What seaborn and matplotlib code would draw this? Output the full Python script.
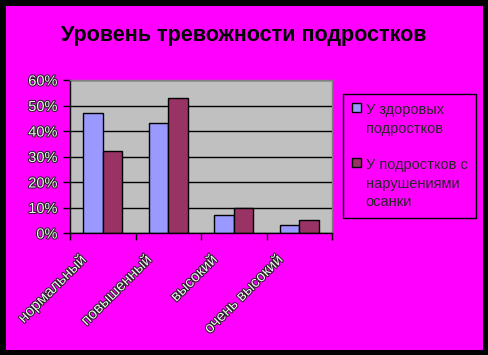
import pandas as pd
import numpy as np
import matplotlib
matplotlib.use('Agg')
import matplotlib.pyplot as plt
import matplotlib.patheffects as pe
import matplotlib.transforms as mtransforms
from matplotlib.patches import Patch, Rectangle
import seaborn as sns

categories = ['нормальный', 'повышенный', 'высокий', 'очень высокий']
healthy = [47, 43, 7, 3]
posture = [32, 53, 10, 5]
series_names = ['У здоровых\nподростков', 'У подростков с\nнарушениями\nосанки']
colors = ['#9999FF', '#993366']
y_ticks = [0, 10, 20, 30, 40, 50, 60]

df = pd.DataFrame({
    'cat': categories * 2,
    'val': healthy + posture,
    'series': [series_names[0]] * 4 + [series_names[1]] * 4,
})

sns.set_style('white')
plt.rcParams['font.family'] = ['Liberation Sans', 'DejaVu Sans']

W, H = 488, 355
fig = plt.figure(figsize=(W / 100, H / 100), dpi=100)
fig.patch.set_facecolor('black')
# magenta area inside black frame
fig.add_artist(Rectangle((6 / W, 5 / H), (483 - 6) / W, (349 - 5) / H,
                         transform=fig.transFigure, facecolor='#FF00FF',
                         edgecolor='none', zorder=0))

ax = fig.add_axes([70 / W, (H - 233) / H, 262 / W, 153 / H])
ax.set_facecolor('#C0C0C0')
sns.barplot(data=df, x='cat', y='val', hue='series', palette=colors,
            width=0.59, edgecolor='black', linewidth=1, ax=ax, legend=False,
            saturation=1)

ax.set_ylim(0, 60)
ax.set_xlim(-0.5, 3.5)
ax.set_yticks(y_ticks)
ax.set_yticklabels([f'{t}%' for t in y_ticks])
ax.yaxis.grid(True, color='black', linewidth=1)
ax.set_axisbelow(True)
ax.set_xlabel('')
ax.set_ylabel('')

for s in ['left', 'bottom']:
    ax.spines[s].set_color('black')
    ax.spines[s].set_linewidth(1)
for s in ['top', 'right']:
    ax.spines[s].set_color('#808080')
    ax.spines[s].set_linewidth(1)

ax.tick_params(axis='y', direction='out', length=5, width=1, color='black',
               left=True, labelsize=10.5, pad=4)
ax.set_xticks(np.arange(len(categories)))
ax.set_xticks(np.arange(len(categories) + 1) - 0.5, minor=True)
ax.tick_params(axis='x', which='major', length=0, labelsize=11, pad=18)
ax.tick_params(axis='x', which='minor', direction='out', length=5, width=1,
               color='black', bottom=True)

outline = [pe.withStroke(linewidth=1.4, foreground='#202020')]
for lab in ax.get_yticklabels():
    lab.set_color('#F0F0F0')
    lab.set_path_effects(outline)
offset = mtransforms.ScaledTranslation(-19 / 100, 0, fig.dpi_scale_trans)
for lab in ax.get_xticklabels():
    lab.set_rotation(45)
    lab.set_rotation_mode('anchor')
    lab.set_ha('right')
    lab.set_va('center')
    lab.set_color('#F0F0F0')
    lab.set_path_effects(outline)
    lab.set_transform(lab.get_transform() + offset)

fig.text(244 / W, 1 - 35 / H, 'Уровень тревожности подростков',
         ha='center', va='center', fontsize=15.5, fontweight='bold',
         color='black')

handles = [Patch(facecolor=c, edgecolor='black', linewidth=1) for c in colors]
leg = fig.legend(handles, series_names, loc='upper left',
                 bbox_to_anchor=(343 / W, 1 - 94 / H), frameon=True,
                 fancybox=False, edgecolor='black', facecolor='#FF00FF',
                 framealpha=1, fontsize=10.5, handlelength=0.65,
                 handleheight=0.65, handletextpad=0.3, labelspacing=1.5,
                 borderpad=0.6, borderaxespad=0)
leg.get_frame().set_linewidth(1)
for t in leg.get_texts():
    t.set_linespacing(1.45)
# handles next to the first line of each label
for col in leg._legend_handle_box.get_children():
    for item in col.get_children():
        item.align = 'top'

fig.savefig('out.png', dpi=100, facecolor=fig.get_facecolor())
